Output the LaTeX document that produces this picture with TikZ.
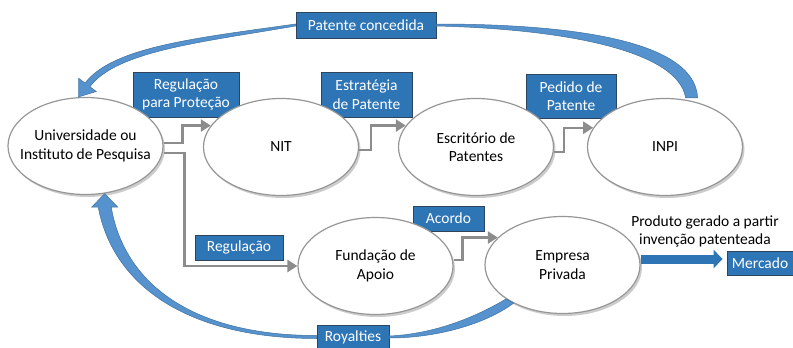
\documentclass[tikz,border=0pt]{standalone}
\usepackage{fontspec}
\setmainfont{Carlito}
\usetikzlibrary{shapes.geometric,arrows.meta,shadows,calc}
\definecolor{boxblue}{RGB}{46,117,182}
\definecolor{boxedge}{RGB}{47,68,95}
\definecolor{curveblue}{RGB}{86,146,206}
\definecolor{curveedge}{RGB}{65,113,156}
\definecolor{linkgray}{RGB}{140,140,140}
\definecolor{bubbleedge}{RGB}{150,150,150}
\tikzset{
  bubble/.style={draw=bubbleedge, line width=1.2pt, fill=white, ellipse, minimum width=155pt, minimum height=97pt, inner xsep=-14pt, inner ysep=0pt, align=center, drop shadow={shadow xshift=2pt, shadow yshift=-2.5pt, fill=black!40}},
  tag/.style={draw=boxedge, line width=0.8pt, fill=boxblue, text=white, align=center, inner sep=0pt},
  link/.style={draw=linkgray, line width=2.5pt, -{Triangle[length=10pt,width=12pt]}},
  flow/.style={fill=curveblue, draw=curveedge, line width=0.5pt},
}
\begin{document}
\begin{tikzpicture}[x=1pt, y=-1pt, every node/.style={font=\fontsize{15.5}{18.5}\selectfont}]
\useasboundingbox (0,0) rectangle (793,348);
\node[tag, minimum width=140pt, minimum height=26pt] (patcon) at (366,25) {Patente concedida};
\node[tag, minimum width=106pt, minimum height=45pt] (regprot) at (186,94.5) {Regulação\\para Proteção};
\node[tag, minimum width=91pt, minimum height=45pt] (estrat) at (366.5,94.5) {Estratégia\\de Patente};
\node[tag, minimum width=90pt, minimum height=44pt] (pedido) at (571,96) {Pedido de\\Patente};
\node[tag, minimum width=88pt, minimum height=25pt] (regul) at (239,247.5) {Regulação};
\node[tag, minimum width=71pt, minimum height=25pt] (acordo) at (448.5,218.5) {Acordo};
\node[tag, minimum width=66pt, minimum height=24pt] (mercado) at (760,263) {Mercado};
\node[tag, minimum width=72pt, minimum height=24pt] (royal) at (353,337) {Royalties};
\node[align=center] (produto) at (705,231.5) {Produto gerado a partir\\invenção patenteada};
\node[bubble] (univ) at (85.5,146) {Universidade ou\\Instituto de Pesquisa};
\node[bubble] (nit) at (281,147) {NIT};
\node[bubble] (esc) at (476,147) {Escritório de\\Patentes};
\node[bubble] (inpi) at (665,147) {INPI};
\node[bubble] (fund) at (375.5,266) {Fundação de\\Apoio};
\node[bubble] (emp) at (562.5,265) {Empresa\\Privada};
\draw[link] ([yshift=3pt]univ.east) -- ++(19,0) |- (nit.163);
\draw[link] ([yshift=-7pt]univ.east) -- ++(21,0) |- (fund.west);
\draw[link] ([yshift=-3pt]nit.east) -- ++(12,0) |- (esc.163);
\draw[link] ([yshift=-5pt]esc.east) -- ++(10,0) |- (inpi.165);
\draw[link] ([yshift=6pt]fund.east) -- ++(9,0) |- (emp.157);
\filldraw[flow] ($(inpi.60)+(6,-3)$) .. controls +(-3,-60) and +(125,0) .. ($(patcon.east)+(0,-1)$)
  -- ($(patcon.east)+(0,1)$) .. controls +(125,3) and +(-8,-48) .. ($(inpi.60)+(-6,-3)$) -- cycle;
\filldraw[flow] ($(patcon.west)+(0,-1)$) .. controls +(-100,14) and +(27,-36) .. ($(univ.north)+(-0.4,-13.8)$)
  -- ($(univ.north)+(-6.8,-18.6)$) -- ($(univ.north)+(-7,0)$) -- ($(univ.north)+(10.8,-5.4)$)
  -- ($(univ.north)+(4.4,-10.2)$) .. controls +(27,-36) and +(-92,16) .. ($(patcon.west)+(0,1)$) -- cycle;
\filldraw[flow] (emp.218) .. controls +(-30,22) and +(45,0) .. ($(royal.east)+(0,1)$)
  -- ($(royal.east)+(0,-1)$) .. controls +(45,-2) and +(-30,18) .. (emp.211) -- cycle;
\filldraw[flow] ($(royal.west)+(0,1.5)$) .. controls +(-127,0) and +(15,80) .. ($(univ.-68)+(-6.5,13.5)$)
  -- ($(univ.-68)+(-13,13.5)$) -- (univ.-68) -- ($(univ.-68)+(13,13.5)$)
  -- ($(univ.-68)+(6.5,13.5)$) .. controls +(13,76) and +(-125,0) .. ($(royal.west)+(0,-1.5)$) -- cycle;
\draw[draw=boxblue, line width=9pt, -{Triangle[length=9pt,width=18pt]}] ([yshift=6pt]emp.east) -- ([xshift=-4pt,yshift=4pt]mercado.west);
\end{tikzpicture}
\end{document}
